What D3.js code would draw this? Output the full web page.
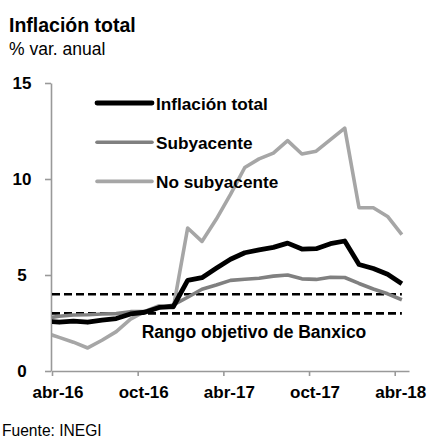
<!DOCTYPE html>
<html>
<head>
<meta charset="utf-8">
<script src="https://cdn.jsdelivr.net/npm/d3@7"></script>
<style>
  body { margin: 0; background: #fff; }
  svg { display: block; font-family: "Liberation Sans", Arial, sans-serif; }
</style>
</head>
<body>
<svg id="chart" width="428" height="441"></svg>
<script>
// Monthly data, mar-16 .. abr-18 (mar-16 sits left of the axis and gets clipped)
const months = ['mar-16', 'abr-16', 'may-16', 'jun-16', 'jul-16', 'ago-16', 'sep-16', 'oct-16', 'nov-16', 'dic-16',
  'ene-17', 'feb-17', 'mar-17', 'abr-17', 'may-17', 'jun-17', 'jul-17', 'ago-17', 'sep-17', 'oct-17', 'nov-17', 'dic-17',
  'ene-18', 'feb-18', 'mar-18', 'abr-18'];
const inflacionTotal = [2.60, 2.54, 2.60, 2.54, 2.65, 2.73, 2.97, 3.06, 3.31, 3.36,
  4.72, 4.86, 5.35, 5.82, 6.16, 6.31, 6.44, 6.66, 6.35, 6.37, 6.63, 6.77,
  5.55, 5.34, 5.04, 4.55];
const subyacente = [2.74, 2.85, 2.92, 2.93, 2.97, 2.99, 3.09, 3.10, 3.29, 3.44,
  3.84, 4.26, 4.48, 4.72, 4.78, 4.83, 4.94, 5.00, 4.80, 4.77, 4.88, 4.87,
  4.56, 4.27, 4.02, 3.71];
const noSubyacente = [2.0, 1.75, 1.5, 1.2, 1.6, 2.05, 2.7, 3.1, 3.4, 3.3,
  7.45, 6.75, 7.9, 9.2, 10.6, 11.05, 11.35, 12.0, 11.3, 11.45, 12.05, 12.65,
  8.5, 8.5, 8.05, 7.1];
const rangoObjetivo = [3, 4];
const yTicks = [0, 5, 10, 15];
const xTickMonths = [0, 6, 12, 18, 24];
const xTickLabels = ['abr-16', 'oct-16', 'abr-17', 'oct-17', 'abr-18'];
const seriesNames = ['Inflación total', 'Subyacente', 'No subyacente'];

const svg = d3.select('#chart');

// Scales: x counts months from abr-16, points sit in the middle of each month slot
const x = d3.scaleLinear().domain([0, 25]).range([52, 409]);
const y = d3.scaleLinear().domain([0, 15]).range([371, 83]);
const xPos = (d, i) => x(i - 0.5);

// Titles
svg.append('text')
  .attr('x', 9).attr('y', 32)
  .style('font-size', '19.5px').style('font-weight', 'bold')
  .text('Inflación total');
svg.append('text')
  .attr('x', 9).attr('y', 55)
  .style('font-size', '17.5px')
  .text('% var. anual');

// Axes
const axisColor = '#999';
const yAxis = svg.append('g')
  .attr('transform', `translate(${x(0) - 1},0)`)
  .call(d3.axisLeft(y).tickValues(yTicks).tickSize(6).tickSizeOuter(0).tickFormat(d3.format('d')));
yAxis.select('.domain').attr('stroke', axisColor).attr('stroke-width', 1.6);
yAxis.selectAll('.tick line').attr('stroke', axisColor).attr('stroke-width', 1.6);
yAxis.selectAll('.tick text')
  .attr('x', -29)
  .attr('text-anchor', 'middle')
  .attr('fill', '#000')
  .style('font-size', '17px').style('font-weight', 'bold')
  .style('font-family', '"Liberation Sans", Arial, sans-serif');

const xAxis = svg.append('g')
  .attr('transform', `translate(0,${y(0)})`)
  .call(d3.axisBottom(x).tickValues(xTickMonths).tickSize(5).tickSizeOuter(0)
    .tickFormat((d, i) => xTickLabels[i]));
xAxis.select('.domain').attr('stroke', axisColor).attr('stroke-width', 1.6);
xAxis.selectAll('.tick line').attr('stroke', axisColor).attr('stroke-width', 1.6);
xAxis.selectAll('.tick text')
  .attr('x', 5.5)
  .attr('y', 27)
  .attr('dy', 0)
  .attr('fill', '#000')
  .style('font-size', '17px').style('font-weight', 'bold')
  .style('font-family', '"Liberation Sans", Arial, sans-serif');

// Clip lines to the plot area
svg.append('clipPath').attr('id', 'plot-clip')
  .append('rect')
  .attr('x', x(0)).attr('y', 0)
  .attr('width', x(25) - x(0)).attr('height', y(0));

const plot = svg.append('g').attr('clip-path', 'url(#plot-clip)');

// Banxico target range (dashed)
plot.selectAll('.target')
  .data(rangoObjetivo)
  .enter()
  .append('line')
  .attr('class', 'target')
  .attr('x1', x(0)).attr('x2', xPos(null, months.length - 1))
  .attr('y1', d => y(d)).attr('y2', d => y(d))
  .attr('stroke', '#000')
  .attr('stroke-width', 2.6)
  .attr('stroke-dasharray', '8,4');

const line = d3.line().x(xPos).y(d => y(d));

const series = [
  { name: seriesNames[2], values: noSubyacente, color: '#a6a6a6', width: 3.6 },
  { name: seriesNames[1], values: subyacente, color: '#808080', width: 3.6 },
  { name: seriesNames[0], values: inflacionTotal, color: '#000', width: 4.8 }
];

series.forEach(s => {
  plot.append('path')
    .datum(s.values)
    .attr('fill', 'none')
    .attr('stroke', s.color)
    .attr('stroke-width', s.width)
    .attr('stroke-linejoin', 'round')
    .attr('d', line);
});

svg.append('text')
  .attr('x', 254).attr('y', 338)
  .attr('text-anchor', 'middle')
  .style('font-size', '17.5px').style('font-weight', 'bold')
  .text('Rango objetivo de Banxico');

// Legend
const legend = svg.append('g').attr('transform', 'translate(97,103)');
const legendItems = legend.selectAll('.legend-item')
  .data(series.slice().reverse())
  .enter()
  .append('g')
  .attr('class', 'legend-item')
  .attr('transform', (d, i) => `translate(0,${i * 39.2})`);

legendItems.append('line')
  .attr('x1', 0).attr('x2', 55)
  .attr('stroke', d => d.color)
  .attr('stroke-width', d => d.width)
  .attr('stroke-linecap', 'round');

legendItems.append('text')
  .attr('x', 59).attr('y', 6.5)
  .style('font-size', '17.2px').style('font-weight', 'bold')
  .text(d => d.name);

// Source
svg.append('text')
  .attr('x', 2).attr('y', 436)
  .style('font-size', '15.6px')
  .text('Fuente: INEGI');
</script>
</body>
</html>
